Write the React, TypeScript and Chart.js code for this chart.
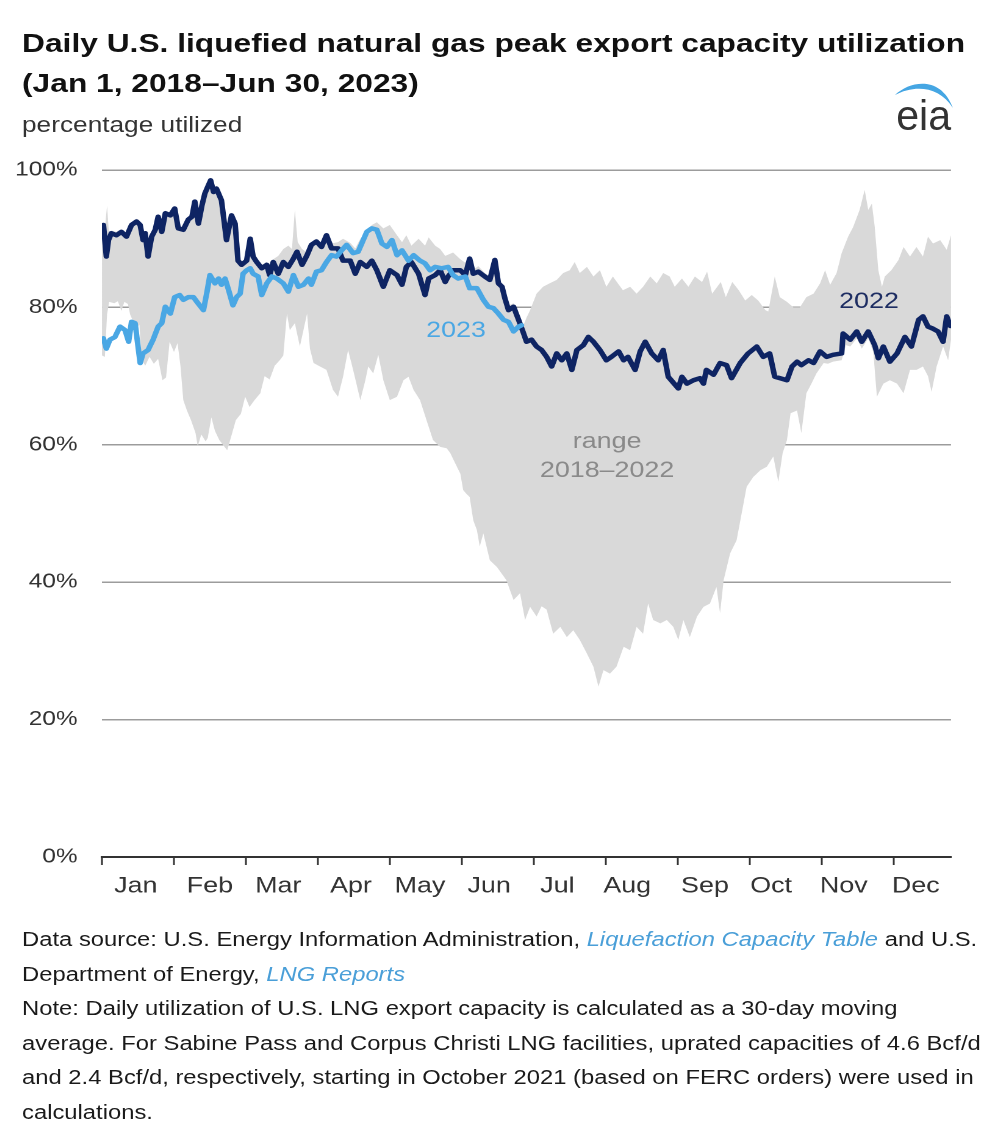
import React, { useEffect, useRef } from "react";
import { Chart, registerables } from "chart.js";

Chart.register(...registerables);

// ---------- data ----------
const monthLabels = ["Jan", "Feb", "Mar", "Apr", "May", "Jun", "Jul", "Aug", "Sep", "Oct", "Nov", "Dec"];
// month boundaries (x in month units, 0 = Jan 1)
const monthTickPositions = [0, 1, 2, 3, 4, 5, 6, 7, 8, 9, 10, 11];
// where each month name sits
const monthLabelPositions = [0.47, 1.5, 2.45, 3.46, 4.42, 5.38, 6.33, 7.3, 8.38, 9.3, 10.31, 11.31];
const yTickValues = [0, 20, 40, 60, 80, 100];
const xMax = 11.8;

// 2022 daily utilization (%)
const series2022: [number, number][] = [
  [0.02, 92.0], [0.06, 87.4], [0.09, 89.8], [0.13, 90.8], [0.2, 90.5], [0.27, 91.0], [0.34, 90.3], [0.41, 92.0],
  [0.48, 92.5], [0.53, 92.0], [0.57, 89.8], [0.6, 90.8], [0.64, 87.4], [0.69, 90.3], [0.74, 91.3], [0.78, 93.2],
  [0.83, 91.0], [0.88, 93.7], [0.95, 93.4], [1.01, 94.4], [1.06, 91.5], [1.13, 91.3], [1.2, 92.8], [1.25, 93.2],
  [1.29, 95.4], [1.34, 92.2], [1.39, 94.9], [1.43, 96.6], [1.48, 97.8], [1.51, 98.5], [1.55, 96.8], [1.59, 97.3],
  [1.66, 95.6], [1.73, 89.8], [1.8, 93.4], [1.85, 92.2], [1.89, 86.8], [1.94, 86.2], [2.01, 86.8], [2.06, 90.0],
  [2.1, 87.4], [2.15, 86.6], [2.22, 85.7], [2.29, 86.2], [2.33, 84.7], [2.38, 86.6], [2.45, 84.9], [2.52, 86.6],
  [2.59, 85.9], [2.66, 87.1], [2.71, 88.1], [2.78, 86.2], [2.85, 87.6], [2.91, 89.1], [2.98, 89.6], [3.05, 88.8],
  [3.12, 90.5], [3.19, 88.6], [3.28, 88.6], [3.35, 86.8], [3.45, 86.8], [3.52, 84.9], [3.59, 86.6], [3.68, 85.9],
  [3.75, 86.8], [3.82, 85.4], [3.91, 83.0], [4.0, 85.4], [4.1, 84.7], [4.17, 83.3], [4.23, 85.9], [4.3, 86.6],
  [4.4, 84.9], [4.49, 81.8], [4.54, 84.2], [4.63, 84.7], [4.7, 85.4], [4.77, 83.7], [4.81, 84.5], [4.88, 85.4],
  [4.98, 85.4], [5.05, 84.7], [5.11, 87.1], [5.16, 84.9], [5.23, 85.2], [5.32, 84.5], [5.39, 84.0], [5.46, 86.9],
  [5.51, 83.5], [5.56, 83.0], [5.6, 81.3], [5.65, 79.6], [5.72, 80.1], [5.79, 78.2], [5.86, 76.2], [5.9, 75.0],
  [5.97, 75.3], [6.04, 74.3], [6.11, 73.8], [6.18, 72.8], [6.25, 71.4], [6.32, 73.3], [6.39, 72.3], [6.46, 73.3],
  [6.53, 70.9], [6.6, 73.8], [6.69, 74.5], [6.76, 75.7], [6.83, 75.0], [6.92, 73.8], [7.01, 72.3], [7.08, 72.8],
  [7.18, 73.6], [7.25, 72.3], [7.31, 72.8], [7.41, 70.9], [7.48, 73.6], [7.55, 75.0], [7.64, 73.3], [7.73, 72.3],
  [7.8, 73.8], [7.87, 69.9], [8.01, 68.2], [8.06, 69.9], [8.13, 68.9], [8.22, 69.4], [8.31, 69.7], [8.36, 68.9],
  [8.4, 70.9], [8.5, 70.2], [8.59, 71.9], [8.68, 71.6], [8.75, 69.7], [8.87, 71.9], [8.98, 73.3], [9.1, 74.3],
  [9.19, 72.8], [9.28, 73.3], [9.35, 69.9], [9.42, 69.7], [9.52, 69.4], [9.59, 71.4], [9.66, 72.1], [9.72, 71.6],
  [9.82, 72.3], [9.89, 71.9], [9.98, 73.6], [10.07, 72.8], [10.16, 73.1], [10.28, 73.3], [10.3, 76.2], [10.4, 75.3],
  [10.49, 76.5], [10.56, 75.0], [10.65, 76.5], [10.74, 74.5], [10.79, 72.6], [10.86, 74.3], [10.95, 72.1], [11.05, 73.3],
  [11.16, 75.7], [11.25, 74.3], [11.35, 78.2], [11.41, 78.7], [11.48, 77.2], [11.55, 76.9], [11.62, 76.5], [11.69, 75.0],
  [11.74, 78.7], [11.79, 77.3],
];

// 2023 daily utilization (%), Jan 1 - Jun 30
const series2023: [number, number][] = [
  [0.02, 75.5], [0.06, 74.0], [0.11, 75.3], [0.18, 75.7], [0.25, 77.2], [0.32, 76.7], [0.37, 75.0], [0.41, 77.9],
  [0.46, 77.7], [0.53, 71.9], [0.57, 73.3], [0.64, 73.8], [0.71, 75.3], [0.78, 77.2], [0.83, 77.7], [0.88, 80.1],
  [0.95, 79.1], [1.01, 81.5], [1.08, 81.8], [1.13, 81.1], [1.2, 81.5], [1.27, 81.5], [1.32, 80.8], [1.41, 79.6],
  [1.46, 82.3], [1.5, 84.7], [1.57, 83.5], [1.62, 84.2], [1.66, 83.3], [1.71, 84.2], [1.76, 82.5], [1.82, 80.3],
  [1.87, 81.5], [1.92, 82.0], [1.96, 84.9], [2.01, 85.4], [2.06, 85.7], [2.1, 84.9], [2.17, 84.5], [2.22, 81.8],
  [2.29, 83.5], [2.36, 84.5], [2.43, 84.2], [2.52, 83.5], [2.59, 82.3], [2.66, 84.7], [2.73, 83.0], [2.8, 83.3],
  [2.87, 84.2], [2.91, 83.3], [2.98, 85.2], [3.05, 85.4], [3.12, 86.6], [3.19, 87.6], [3.26, 87.4], [3.33, 88.3],
  [3.4, 89.1], [3.49, 87.9], [3.56, 88.1], [3.61, 89.3], [3.68, 91.0], [3.75, 91.5], [3.82, 91.3], [3.89, 89.3],
  [3.96, 88.8], [4.03, 89.8], [4.1, 87.6], [4.17, 88.3], [4.26, 86.8], [4.33, 87.6], [4.42, 86.8], [4.49, 86.4],
  [4.56, 85.4], [4.63, 85.9], [4.72, 85.7], [4.81, 85.9], [4.88, 84.7], [4.95, 84.2], [5.05, 84.5], [5.11, 82.8],
  [5.21, 82.8], [5.3, 81.1], [5.37, 80.1], [5.44, 79.9], [5.51, 79.1], [5.58, 78.2], [5.65, 77.9], [5.72, 76.5],
  [5.79, 77.2], [5.83, 77.4],
];

// 2018-2022 range, upper edge (%)
const rangeUpper: [number, number][] = [
  [0.0, 92.3], [0.04, 91.5], [0.07, 94.8], [0.1, 90.3], [0.13, 91.2], [0.2, 91.0], [0.27, 91.4], [0.34, 90.7],
  [0.41, 92.4], [0.48, 92.9], [0.53, 92.4], [0.57, 90.2], [0.6, 91.2], [0.64, 87.8], [0.69, 90.7], [0.74, 91.7],
  [0.78, 93.6], [0.83, 91.4], [0.88, 94.1], [0.95, 93.8], [1.01, 94.8], [1.06, 91.9], [1.13, 91.7], [1.2, 93.2],
  [1.25, 93.6], [1.29, 95.8], [1.34, 92.6], [1.39, 95.3], [1.43, 97.0], [1.48, 98.2], [1.51, 98.9], [1.55, 97.2],
  [1.59, 97.7], [1.66, 96.0], [1.73, 90.2], [1.8, 93.8], [1.85, 92.6], [1.89, 87.2], [1.94, 86.6], [2.01, 87.2],
  [2.06, 90.4], [2.1, 87.8], [2.15, 87.0], [2.22, 86.1], [2.29, 86.6], [2.33, 85.5], [2.38, 87.0], [2.45, 87.5],
  [2.52, 88.5], [2.59, 89.0], [2.64, 88.5], [2.68, 94.2], [2.72, 89.5], [2.78, 88.5], [2.85, 88.0], [2.91, 89.5],
  [2.98, 90.0], [3.05, 89.2], [3.12, 90.9], [3.19, 89.3], [3.28, 89.5], [3.35, 90.0], [3.45, 89.4], [3.52, 88.6],
  [3.59, 90.0], [3.68, 91.0], [3.75, 92.0], [3.82, 92.4], [3.91, 91.5], [4.0, 92.0], [4.1, 90.5], [4.17, 89.5],
  [4.23, 90.5], [4.3, 89.0], [4.4, 90.0], [4.49, 89.0], [4.54, 90.2], [4.63, 89.0], [4.7, 88.5], [4.77, 87.5],
  [4.88, 88.0], [4.98, 87.0], [5.05, 86.5], [5.11, 87.6], [5.16, 85.5], [5.23, 86.0], [5.32, 85.0], [5.39, 84.5],
  [5.46, 87.4], [5.51, 84.0], [5.56, 83.5], [5.6, 82.0], [5.65, 80.3], [5.72, 80.6], [5.79, 78.7], [5.86, 77.5],
  [5.9, 78.5], [5.95, 79.6], [6.04, 82.0], [6.13, 83.0], [6.22, 83.5], [6.32, 84.0], [6.41, 85.0], [6.5, 85.4],
  [6.57, 86.6], [6.64, 85.0], [6.74, 85.9], [6.83, 84.5], [6.92, 85.4], [7.01, 83.0], [7.1, 84.5], [7.24, 82.5],
  [7.34, 83.0], [7.43, 82.0], [7.52, 83.0], [7.62, 84.5], [7.71, 83.5], [7.8, 85.0], [7.89, 84.5], [7.96, 83.0],
  [8.06, 84.2], [8.15, 83.0], [8.24, 84.5], [8.34, 83.7], [8.41, 85.2], [8.48, 82.0], [8.6, 83.7], [8.67, 81.5],
  [8.76, 83.7], [8.85, 82.5], [8.94, 81.0], [9.03, 81.8], [9.12, 81.0], [9.22, 79.6], [9.26, 79.4], [9.35, 84.5],
  [9.42, 81.5], [9.52, 80.8], [9.61, 80.0], [9.7, 80.0], [9.79, 81.5], [9.89, 82.0], [9.98, 83.5], [10.05, 85.4],
  [10.12, 83.3], [10.21, 85.0], [10.28, 87.9], [10.37, 90.3], [10.44, 91.7], [10.53, 94.2], [10.6, 97.1], [10.65, 94.2],
  [10.7, 95.1], [10.74, 91.7], [10.79, 85.4], [10.84, 83.0], [10.88, 84.5], [10.97, 85.4], [11.07, 86.9], [11.14, 88.8],
  [11.23, 87.4], [11.32, 88.8], [11.41, 87.4], [11.48, 90.3], [11.55, 89.3], [11.65, 89.8], [11.74, 88.4], [11.8, 90.5],
];

// 2018-2022 range, lower edge (%)
const rangeLower: [number, number][] = [
  [0.0, 73.0], [0.04, 72.8], [0.07, 79.0], [0.1, 80.8], [0.17, 80.6], [0.22, 80.9], [0.27, 79.5], [0.31, 80.8],
  [0.36, 80.5], [0.39, 79.0], [0.43, 78.0], [0.47, 76.8], [0.52, 77.5], [0.55, 72.5], [0.6, 71.5], [0.66, 72.8],
  [0.72, 71.8], [0.78, 72.5], [0.84, 69.4], [0.89, 69.8], [0.94, 75.0], [1.0, 73.5], [1.05, 74.8], [1.09, 71.5],
  [1.13, 66.5], [1.18, 65.0], [1.24, 63.5], [1.3, 61.7], [1.33, 59.8], [1.38, 61.5], [1.44, 60.5], [1.47, 61.0],
  [1.52, 64.0], [1.57, 62.0], [1.63, 60.7], [1.68, 60.0], [1.74, 59.2], [1.79, 61.0], [1.86, 63.6], [1.93, 64.5],
  [1.99, 67.0], [2.05, 65.5], [2.12, 66.5], [2.2, 67.5], [2.26, 70.0], [2.33, 69.5], [2.4, 71.5], [2.47, 72.3],
  [2.52, 73.0], [2.57, 79.1], [2.61, 76.7], [2.68, 77.7], [2.75, 74.3], [2.85, 79.1], [2.89, 74.0], [2.94, 71.9],
  [3.03, 71.4], [3.12, 70.9], [3.21, 68.0], [3.28, 67.0], [3.35, 69.9], [3.42, 73.8], [3.49, 70.9], [3.59, 66.5],
  [3.66, 69.4], [3.7, 71.4], [3.77, 70.4], [3.84, 73.1], [3.91, 69.4], [4.0, 66.5], [4.1, 67.0], [4.19, 69.4],
  [4.26, 69.9], [4.33, 68.0], [4.42, 66.5], [4.51, 63.6], [4.6, 60.7], [4.7, 59.7], [4.79, 59.5], [4.84, 58.8],
  [4.9, 57.5], [4.98, 55.8], [5.02, 53.4], [5.07, 52.8], [5.11, 52.4], [5.16, 49.0], [5.21, 47.6], [5.25, 45.2],
  [5.3, 47.1], [5.39, 43.2], [5.49, 42.2], [5.62, 40.3], [5.72, 37.4], [5.81, 38.4], [5.88, 34.5], [5.95, 36.4],
  [6.04, 35.0], [6.11, 36.5], [6.18, 36.0], [6.27, 32.5], [6.37, 33.5], [6.46, 32.0], [6.55, 33.0], [6.64, 31.6],
  [6.74, 29.6], [6.83, 27.7], [6.9, 24.8], [6.97, 27.2], [7.06, 26.7], [7.15, 27.7], [7.25, 30.6], [7.34, 30.1],
  [7.43, 33.5], [7.52, 32.5], [7.59, 36.9], [7.66, 34.5], [7.76, 34.0], [7.85, 34.5], [7.94, 33.5], [8.01, 31.6],
  [8.08, 34.5], [8.17, 32.0], [8.27, 35.0], [8.36, 36.4], [8.45, 36.9], [8.54, 39.3], [8.59, 35.5], [8.64, 40.3],
  [8.73, 44.2], [8.82, 46.1], [8.89, 50.0], [8.96, 53.9], [9.05, 55.3], [9.15, 56.3], [9.24, 56.8], [9.33, 58.3],
  [9.4, 54.6], [9.46, 58.8], [9.52, 60.7], [9.57, 64.6], [9.66, 65.0], [9.72, 61.7], [9.79, 67.5], [9.86, 68.9],
  [9.93, 70.4], [10.03, 71.9], [10.09, 71.8], [10.16, 72.1], [10.28, 72.3], [10.34, 74.5], [10.4, 74.3], [10.49, 75.5],
  [10.56, 74.0], [10.65, 75.5], [10.72, 73.5], [10.77, 67.0], [10.86, 68.9], [10.95, 69.4], [11.05, 68.9], [11.14, 67.5],
  [11.23, 70.9], [11.32, 70.9], [11.41, 71.4], [11.48, 70.0], [11.53, 67.7], [11.6, 71.4], [11.69, 74.3], [11.76, 72.3],
  [11.8, 75.3],
];

// ---------- styling ----------
const STRETCH = 1.22;
const FONT = '"Liberation Sans", Arial, Helvetica, sans-serif';
const NAVY = "#0e2463";
const LIGHT = "#4aa7e4";
const GREY_FILL = "#d9d9d9";
const TEXT = "#333333";

const inChartLabels = [
  { text: "2023", x: 4.92, y: 76.6, color: LIGHT },
  { text: "2022", x: 10.66, y: 80.8, color: "#1d2d62" },
  { text: "range", x: 7.02, y: 60.4, color: "#8a8a8a" },
  { text: "2018\u20132022", x: 7.02, y: 56.2, color: "#8a8a8a" },
];

const toPoints = (arr: [number, number][]) => arr.map(([x, y]) => ({ x, y }));

const labelPlugin = {
  id: "seriesLabels",
  afterDatasetsDraw(chart: any) {
    const { ctx, scales } = chart;
    const xs = scales.x;
    const ys = scales.y;
    ctx.save();
    ctx.font = `22px ${FONT}`;
    ctx.textAlign = "center";
    ctx.textBaseline = "middle";
    for (const l of inChartLabels) {
      ctx.fillStyle = l.color;
      ctx.fillText(l.text, xs.getPixelForValue(l.x), ys.getPixelForValue(l.y));
    }
    ctx.restore();
  },
};

export default function App() {
  const canvasRef = useRef<HTMLCanvasElement>(null);

  useEffect(() => {
    const canvas = canvasRef.current;
    if (!canvas) return;
    const xTickValues = [...monthTickPositions, ...monthLabelPositions].sort((a, b) => a - b);
    const chart = new Chart(canvas, {
      type: "line",
      data: {
        datasets: [
          {
            label: "range low",
            data: toPoints(rangeLower),
            borderWidth: 0,
            borderColor: "rgba(0,0,0,0)",
            pointRadius: 0,
            fill: false,
            order: 3,
          },
          {
            label: "range high",
            data: toPoints(rangeUpper),
            borderWidth: 0,
            borderColor: "rgba(0,0,0,0)",
            backgroundColor: GREY_FILL,
            pointRadius: 0,
            fill: 0,
            order: 2,
          },
          {
            label: "2022",
            data: toPoints(series2022),
            borderColor: NAVY,
            borderWidth: 4.5,
            pointRadius: 0,
            fill: false,
            order: 1,
          },
          {
            label: "2023",
            data: toPoints(series2023),
            borderColor: LIGHT,
            borderWidth: 4.5,
            pointRadius: 0,
            fill: false,
            order: 0,
          },
        ],
      } as any,
      options: {
        animation: false,
        responsive: false,
        devicePixelRatio: 2,
        layout: { padding: { left: 0, right: 30.05, top: 22, bottom: 0 } },
        elements: {
          line: { tension: 0, borderJoinStyle: "round", borderCapStyle: "round" },
        },
        plugins: {
          legend: { display: false },
          tooltip: { enabled: false },
          title: { display: false },
        },
        scales: {
          x: {
            type: "linear",
            min: 0,
            max: xMax,
            afterBuildTicks: (scale: any) => {
              scale.ticks = xTickValues.map((v) => ({ value: v }));
            },
            afterFit: (scale: any) => {
              scale.height = 51;
              scale.paddingLeft = 0;
              scale.paddingRight = 0;
            },
            ticks: {
              autoSkip: false,
              maxRotation: 0,
              minRotation: 0,
              padding: 8,
              color: TEXT,
              font: { size: 22, family: FONT },
              callback: (value: any) => {
                const i = monthLabelPositions.indexOf(Number(value));
                return i >= 0 ? monthLabels[i] : "";
              },
            },
            grid: {
              drawOnChartArea: false,
              drawTicks: true,
              tickLength: 8,
              tickWidth: 1.5,
              tickColor: (ctx: any) =>
                ctx.tick && monthTickPositions.includes(ctx.tick.value) ? "#333333" : "rgba(0,0,0,0)",
            },
            border: { display: true, color: "#333333", width: 2 },
          },
          y: {
            min: 0,
            max: 100,
            afterBuildTicks: (scale: any) => {
              scale.ticks = yTickValues.map((v) => ({ value: v }));
            },
            afterFit: (scale: any) => {
              scale.width = 77.05;
              scale.paddingTop = 0;
              scale.paddingBottom = 0;
            },
            ticks: {
              padding: 20,
              color: TEXT,
              font: { size: 20, family: FONT },
              callback: (value: any) => `${value}%`,
            },
            grid: {
              drawTicks: false,
              lineWidth: 1.5,
              color: (ctx: any) => (ctx.tick && ctx.tick.value === 0 ? "rgba(0,0,0,0)" : "#9c9c9c"),
            },
            border: { display: false },
          },
        },
      } as any,
      plugins: [labelPlugin],
    });
    return () => chart.destroy();
  }, []);

  const linkStyle: React.CSSProperties = { color: "#4a9fd8", fontStyle: "italic" };

  return (
    <div
      style={{
        position: "relative",
        width: 803,
        height: 1126,
        transform: `scaleX(${STRETCH})`,
        transformOrigin: "0 0",
        fontFamily: FONT,
        color: "#1a1a1a",
      }}
    >
      <div
        style={{
          position: "absolute",
          left: 11.5,
          top: 14.6,
          fontSize: 26,
          fontWeight: "bold",
          lineHeight: "40px",
          whiteSpace: "nowrap",
          color: "#111111",
        }}
      >
        Daily U.S. liquefied natural gas peak export capacity utilization
        <br />
        (Jan 1, 2018–Jun 30, 2023)
      </div>
      <div
        style={{
          position: "absolute",
          left: 11.5,
          top: 103.5,
          fontSize: 21.5,
          lineHeight: "26px",
          whiteSpace: "nowrap",
          color: TEXT,
        }}
      >
        percentage utilized
      </div>
      <svg
        width={803}
        height={140}
        style={{ position: "absolute", left: 0, top: 0, overflow: "visible" }}
      >
        <path
          d="M 727 87 C 740 72, 765 68, 774.5 100 C 763 77, 742 77, 727 87 Z"
          fill="#45a6e3"
        />
        <text
          x={728}
          y={122}
          fontSize={42}
          fill="#333333"
          fontFamily={FONT}
          textLength={45}
          lengthAdjust="spacingAndGlyphs"
        >
          eia
        </text>
      </svg>
      <canvas
        ref={canvasRef}
        width={803}
        height={760}
        style={{ position: "absolute", left: 0, top: 140, width: 803, height: 760 }}
      />
      <div
        style={{
          position: "absolute",
          left: 11.5,
          top: 914,
          fontSize: 19.5,
          lineHeight: "34.5px",
          whiteSpace: "nowrap",
          color: "#1a1a1a",
        }}
      >
        Data source: U.S. Energy Information Administration, <span style={linkStyle}>Liquefaction Capacity Table</span> and U.S.
        <br />
        Department of Energy, <span style={linkStyle}>LNG Reports</span>
        <br />
        Note: Daily utilization of U.S. LNG export capacity is calculated as a 30-day moving
        <br />
        average. For Sabine Pass and Corpus Christi LNG facilities, uprated capacities of 4.6 Bcf/d
        <br />
        and 2.4 Bcf/d, respectively, starting in October 2021 (based on FERC orders) were used in
        <br />
        calculations.
      </div>
    </div>
  );
}
